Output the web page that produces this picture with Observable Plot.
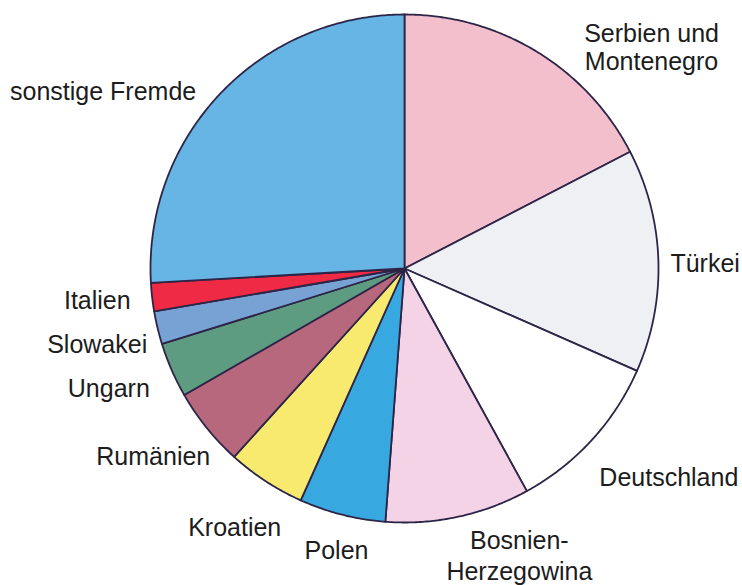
<!DOCTYPE html>
<html><head><meta charset="utf-8">
<script src="https://cdn.jsdelivr.net/npm/d3@7"></script>
<script src="https://cdn.jsdelivr.net/npm/@observablehq/plot@0.6"></script>
<style>body{margin:0;background:#fff}</style>
</head><body><div id="chart"></div>
<script>
// Data (share of foreign residents, %), clockwise from 12 o'clock
const categories = ["Serbien und\nMontenegro", "Türkei", "Deutschland", "Bosnien-\nHerzegowina", "Polen", "Kroatien", "Rumänien", "Ungarn", "Slowakei", "Italien", "sonstige Fremde"];
const shares = [17.4, 14.2, 10.4, 9.2, 5.5, 5.0, 5.0, 3.5, 2.1, 1.8, 25.9];
const sliceColors = ["#f4bfcd", "#eff0f4", "#ffffff", "#f3d3e5", "#38a9e0", "#f7ea6e", "#b8687c", "#5e9c82", "#78a2d4", "#ee2a44", "#66b5e4"];
// layout: pixel offset of each label's centre from its slice's rim midpoint
const labelNudge = [[115, -4.5], [46.8, 2.5], [77, 36.5], [61, 37.5], [-5.6, 35.5], [-31, 46], [-53.5, 27.6], [-62.9, 17.9], [-60.3, 16], [-54.8, 3.3], [-116.8, -2.7]];

const R = 254;
const total = d3.sum(shares);
let acc = 0;
const slices = categories.map((name, i) => {
  const a0 = acc / total * 2 * Math.PI;
  acc += shares[i];
  const a1 = acc / total * 2 * Math.PI;
  return {name, a0, a1, mid: (a0 + a1) / 2, i};
});
const poly = [];
for (const s of slices) {
  poly.push({name: s.name, x: 0, y: 0});
  const n = Math.max(2, Math.ceil((s.a1 - s.a0) / (Math.PI / 360)));
  for (let k = 0; k <= n; k++) {
    const a = s.a0 + (s.a1 - s.a0) * k / n;
    poly.push({name: s.name, x: Math.sin(a), y: Math.cos(a)});
  }
  poly.push({name: s.name, x: 0, y: 0});
}
const labels = slices.map(s => ({
  name: s.name,
  x: Math.sin(s.mid) + labelNudge[s.i][0] / R,
  y: Math.cos(s.mid) - labelNudge[s.i][1] / R
}));
const isBos = d => d.name.startsWith("Bosnien");

const chart = Plot.plot({
  width: 742, height: 585, margin: 0,
  x: {domain: [-1, 1], range: [150, 658], axis: null},
  y: {domain: [-1, 1], range: [522, 14], axis: null},
  color: {domain: categories, range: sliceColors},
  style: {background: "#fff", fontFamily: "'Liberation Sans', Arial, sans-serif"},
  marks: [
    Plot.line(poly, {x: "x", y: "y", z: "name", fill: "name", stroke: "#2d2547", strokeWidth: 1.8, strokeLinejoin: "round", curve: "linear"}),
    Plot.text(labels.filter(d => !isBos(d)), {x: "x", y: "y", text: "name", fontSize: 25, lineHeight: 1.12, fill: "#1c1c1c", textAnchor: "middle", lineAnchor: "middle"}),
    Plot.text(labels.filter(isBos), {x: "x", y: "y", text: "name", fontSize: 25, lineHeight: 1.24, fill: "#1c1c1c", textAnchor: "middle", lineAnchor: "middle"})
  ]
});
document.getElementById("chart").append(chart);
</script>
</body></html>
